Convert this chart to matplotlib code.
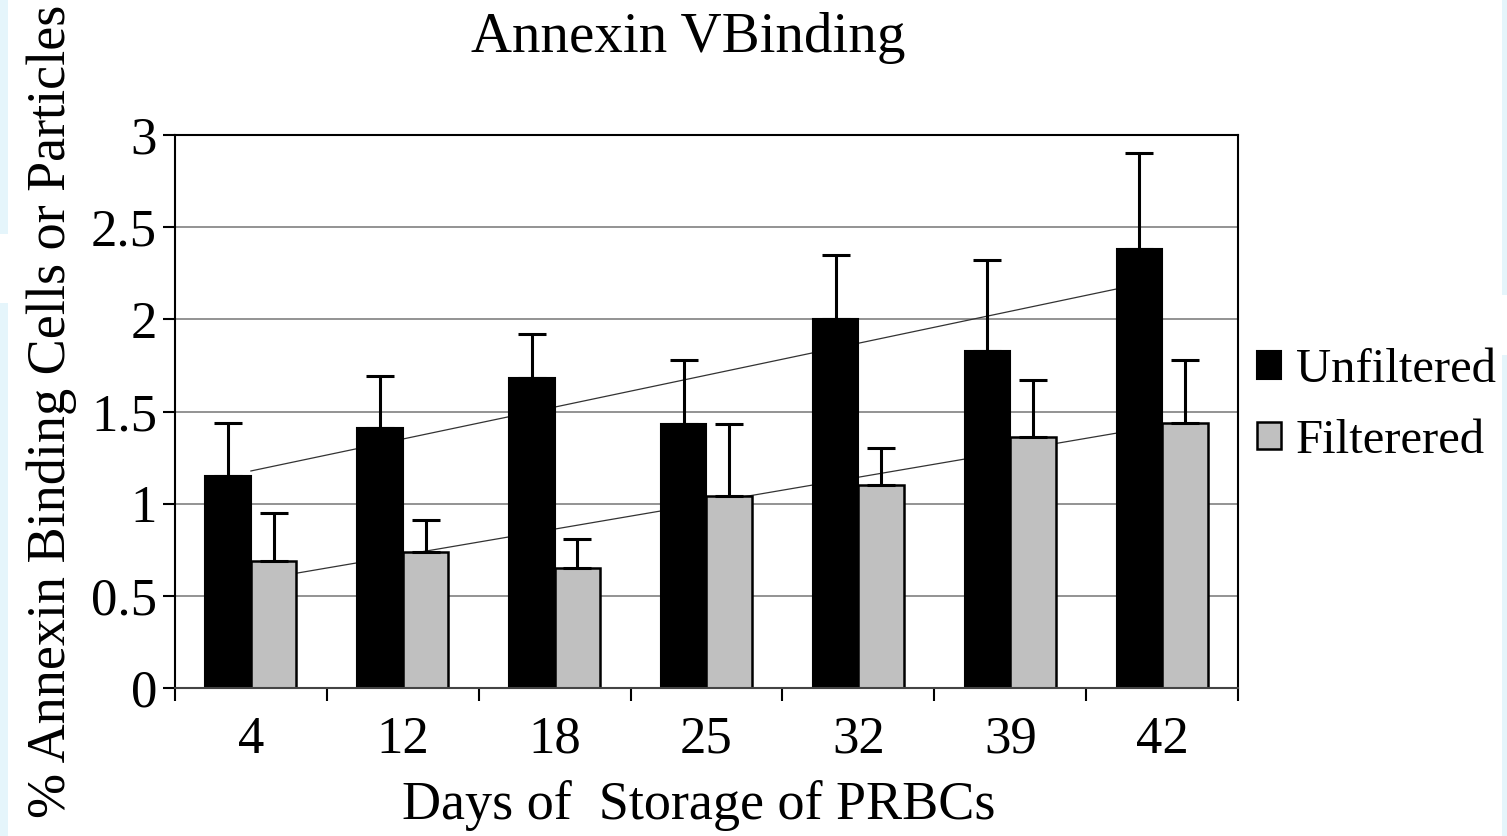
import numpy as np
import matplotlib
matplotlib.use("Agg")
import matplotlib.pyplot as plt
from matplotlib.patches import Rectangle

# 数据
days = ["4", "12", "18", "25", "32", "39", "42"]
unfiltered = [1.15, 1.41, 1.68, 1.43, 2.00, 1.83, 2.38]
unfiltered_err = [0.29, 0.28, 0.24, 0.35, 0.35, 0.49, 0.52]
filtered = [0.69, 0.74, 0.65, 1.04, 1.10, 1.36, 1.44]
filtered_err = [0.26, 0.17, 0.16, 0.39, 0.20, 0.31, 0.34]

plt.rcParams['font.family'] = ['Liberation Serif', 'DejaVu Serif']

fig = plt.figure(figsize=(15.07, 8.36), dpi=100)
ax = fig.add_axes([0.1161, 0.177, 0.7054, 0.6615])

x = np.arange(len(days))
w = 0.3

# 背景の枠
for (x0, y0, ww, hh) in [(0, 0.72, 0.0055, 0.28), (0, 0, 0.0055, 0.637),
                         (0.9965, 0.647, 0.0035, 0.353), (0.9965, 0, 0.0035, 0.575)]:
    fig.patches.append(Rectangle((x0, y0), ww, hh, transform=fig.transFigure,
                                 facecolor='#e5f5fb', edgecolor='none', zorder=0))

ax.grid(axis='y', color='#808080', linewidth=1.2, zorder=0)
ax.set_axisbelow(True)

# 近似直線
for vals in (unfiltered, filtered):
    p = np.polyfit(x, vals, 1)
    ax.plot([x[0], x[-1]], np.polyval(p, [x[0], x[-1]]), color='#333333',
            linewidth=0.9, zorder=1)

ax.bar(x - w / 2, unfiltered, w, color='black', edgecolor='black', linewidth=1.5,
       label='Unfiltered', zorder=2)
ax.bar(x + w / 2, filtered, w, color='#c0c0c0', edgecolor='black', linewidth=1.8,
       label='Filterered', zorder=2)
ax.errorbar(x - w / 2, unfiltered, yerr=[np.zeros(len(x)), unfiltered_err], fmt='none',
            ecolor='black', elinewidth=2.2, capsize=10, capthick=2.2, zorder=3)
ax.errorbar(x + w / 2, filtered, yerr=[np.zeros(len(x)), filtered_err], fmt='none',
            ecolor='black', elinewidth=2.2, capsize=10, capthick=2.2, zorder=3)

ax.set_xlim(-0.5, len(days) - 0.5)
ax.set_ylim(0, 3)
ax.set_yticks([0, 0.5, 1, 1.5, 2, 2.5, 3])
ax.set_yticklabels(['0', '0.5', '1', '1.5', '2', '2.5', '3'])
ax.set_xticks(x)
ax.set_xticklabels(days)
ax.set_xticks(np.arange(-0.5, len(days)), minor=True)
ax.tick_params(axis='x', which='major', length=0, labelsize=38, pad=20)
ax.tick_params(axis='x', which='minor', length=9, width=1.5, direction='out')
ax.tick_params(axis='y', length=9, width=1.5, direction='out', labelsize=38, pad=4)

for s in ax.spines.values():
    s.set_linewidth(1.5)
    s.set_color('black')
ax.spines['bottom'].set_color('#444444')

ax.set_title('Annexin VBinding', fontsize=41, x=0.483, pad=60)
ax.set_xlabel('Days of  Storage of PRBCs', fontsize=39, labelpad=12, x=0.493)
ax.set_ylabel('% Annexin Binding Cells or Particles', fontsize=39, labelpad=10)

fig.legend(loc='center left', bbox_to_anchor=(0.834, 0.515), frameon=False,
           fontsize=35, handlelength=0.5, handleheight=0.5, handletextpad=0.3,
           labelspacing=0.55, borderaxespad=0, borderpad=0)

fig.savefig('out.png', dpi=100)
